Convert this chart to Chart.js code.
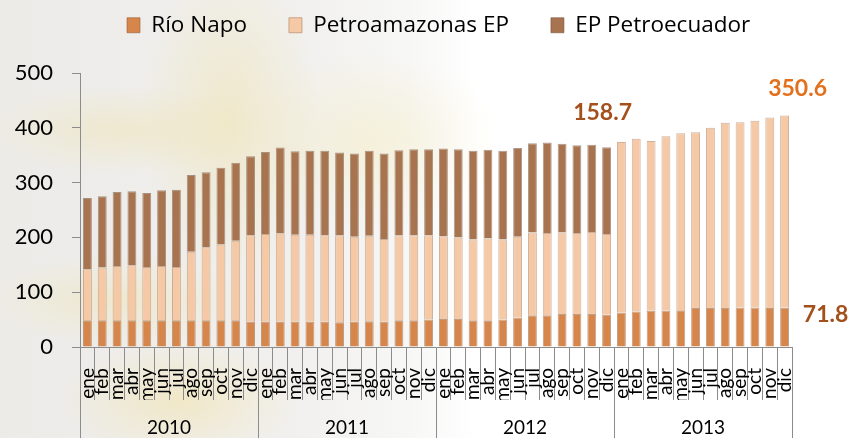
<!DOCTYPE html>
<html>
<head>
<meta charset="utf-8">
<script src="https://cdn.jsdelivr.net/npm/chart.js@4.4.1/dist/chart.umd.min.js"></script>
<style>
  body { margin: 0; background: #ffffff; }
  #caixa {
    width: 852px;
    height: 438px;
    position: relative;
    background:
      radial-gradient(ellipse 90px 160px at 230px 120px, rgba(240, 226, 170, 0.5), rgba(240, 226, 170, 0) 100%),
      radial-gradient(ellipse 140px 45px at 120px 130px, rgba(240, 228, 180, 0.5), rgba(240, 228, 180, 0) 100%),
      radial-gradient(ellipse 140px 45px at 120px 300px, rgba(240, 228, 180, 0.5), rgba(240, 228, 180, 0) 100%),
      radial-gradient(ellipse 120px 60px at 180px 400px, rgba(242, 226, 170, 0.55), rgba(242, 226, 170, 0) 100%),
      radial-gradient(ellipse 130px 90px at 370px 140px, rgba(244, 236, 196, 0.55), rgba(244, 236, 196, 0) 100%),
      linear-gradient(to right, #ecebe8 0%, #f1f0ee 35%, #f7f7f6 48%, #ffffff 56%);
  }
</style>
</head>
<body>
<div id="caixa"><canvas id="grafico" width="852" height="438"></canvas></div>
<script>
const meses = ["ene", "feb", "mar", "abr", "may", "jun", "jul", "ago", "sep", "oct", "nov", "dic"];
const anos = ["2010", "2011", "2012", "2013"];
const rotulosMeses = anos.flatMap(() => meses);

// millones de barriles
const rioNapo = [
  49, 49, 49, 49, 49, 49, 49, 49, 49, 49, 49, 46,
  46, 46, 46, 46, 46, 45, 46, 47, 46, 49, 49, 50,
  51, 51, 49, 49, 50, 54, 58, 58, 60, 60, 60, 59,
  63, 65, 66, 66.5, 67, 71, 71, 71, 72, 72, 71, 71.8
];
const petroamazonas = [
  93, 96, 99, 100, 97, 99, 97, 125, 133, 138, 145, 158,
  160, 161, 159, 159, 158, 159, 155, 156, 151, 155, 155, 154,
  151, 149, 147, 149, 146, 147, 151, 150, 149, 148, 150, 147,
  311, 315, 310, 318, 323, 321, 329, 338, 338, 341, 348, 350.6
];
const petroecuador = [
  130, 130, 135, 135, 135, 138, 141, 140, 137, 140, 142, 144,
  150, 157, 152, 153, 154, 151, 152, 155, 156, 155, 157, 157,
  160, 161, 162, 162, 162, 162, 163, 165, 162, 160, 159, 158.7,
  0, 0, 0, 0, 0, 0, 0, 0, 0, 0, 0, 0
];

const corRioNapo = "#d6864a";
const corPetroamazonas = "#f6c9a6";
const corPetroecuador = "#a87450";
const corEixo = "#8c8c8c";

const fonte = "Lato, 'Noto Sans', sans-serif";
const fonteLegenda = "'Open Sans', 'Noto Sans', sans-serif";

// rotulos de valor: serie, mes, cor e deslocamento em relacao ao topo do segmento
const rotulosValor = [
  { serie: 2, mes: 35, cor: "#a3501c", dx: -4, dy: -35 },
  { serie: 1, mes: 47, cor: "#e3701c", dx: 13, dy: -27 },
  { serie: 0, mes: 47, cor: "#a3501c", dx: 41, dy: 7 }
];

// a legenda ocupa o topo inteiro ate a area do grafico e comeca mais a direita
const ajusteLegenda = {
  id: "ajusteLegenda",
  beforeInit(chart) {
    const fitOriginal = chart.legend.fit;
    chart.legend.fit = function () {
      fitOriginal.call(this);
      this.height = 73;
    };
  },
  beforeDraw(chart) {
    chart.legend.left = 85;
    chart.legend.right = 900;
    chart.legend.top = -28;
  }
};

const textoValores = {
  id: "textoValores",
  afterDatasetsDraw(chart) {
    const ctx = chart.ctx;
    ctx.save();
    ctx.font = "bold 23px " + fonte;
    ctx.textAlign = "center";
    ctx.textBaseline = "middle";
    rotulosValor.forEach((r) => {
      const barra = chart.getDatasetMeta(r.serie).data[r.mes];
      const valor = chart.data.datasets[r.serie].data[r.mes];
      ctx.fillStyle = r.cor;
      ctx.fillText(valor.toFixed(1), barra.x + r.dx, barra.y + r.dy);
    });
    ctx.restore();
  }
};

function criarSerie(nome, dados, cor, borda) {
  return {
    label: nome,
    data: dados,
    backgroundColor: cor,
    borderColor: borda,
    borderWidth: 1,
    barPercentage: 0.6,
    categoryPercentage: 1.0
  };
}

const grafico = new Chart(document.getElementById("grafico"), {
  type: "bar",
  data: {
    labels: rotulosMeses,
    datasets: [
      criarSerie("Río Napo", rioNapo, corRioNapo, "rgba(150, 95, 55, 0.6)"),
      criarSerie("Petroamazonas EP", petroamazonas, corPetroamazonas, "rgba(170, 125, 95, 0.6)"),
      criarSerie("EP Petroecuador", petroecuador, corPetroecuador, "rgba(120, 85, 60, 0.6)")
    ]
  },
  plugins: [ajusteLegenda, textoValores],
  options: {
    responsive: false,
    animation: false,
    events: [],
    layout: {
      padding: { left: 0, right: 60, top: 0, bottom: 0 }
    },
    plugins: {
      legend: {
        position: "top",
        align: "start",
        labels: {
          boxWidth: 13,
          boxHeight: 15,
          padding: 42,
          color: "#000000",
          font: { family: fonteLegenda, size: 22.5 }
        }
      },
      tooltip: { enabled: false }
    },
    scales: {
      x: {
        stacked: true,
        offset: true,
        grid: { offset: true, drawOnChartArea: false, tickLength: 53, color: corEixo },
        border: { color: corEixo },
        ticks: {
          autoSkip: false,
          minRotation: 90,
          maxRotation: 90,
          padding: -32,
          color: "#000000",
          font: { family: fonte, size: 19 }
        },
        afterFit(escala) { escala.height = 53; }
      },
      x2: {
        type: "category",
        axis: "x",
        labels: anos,
        position: "bottom",
        weight: 1,
        offset: true,
        grid: { offset: true, drawOnChartArea: false, tickLength: 38, color: corEixo },
        border: { display: false },
        ticks: {
          padding: -22,
          color: "#000000",
          font: { family: fonte, size: 19 }
        },
        afterFit(escala) { escala.height = 38; }
      },
      y: {
        stacked: true,
        min: 0,
        max: 500,
        grid: { drawOnChartArea: false, tickLength: 8, color: corEixo },
        border: { color: corEixo },
        ticks: {
          stepSize: 100,
          padding: 19,
          color: "#000000",
          font: { family: fonte, size: 22 }
        },
        afterFit(escala) { escala.width = 80; }
      }
    }
  }
});
</script>
</body>
</html>
